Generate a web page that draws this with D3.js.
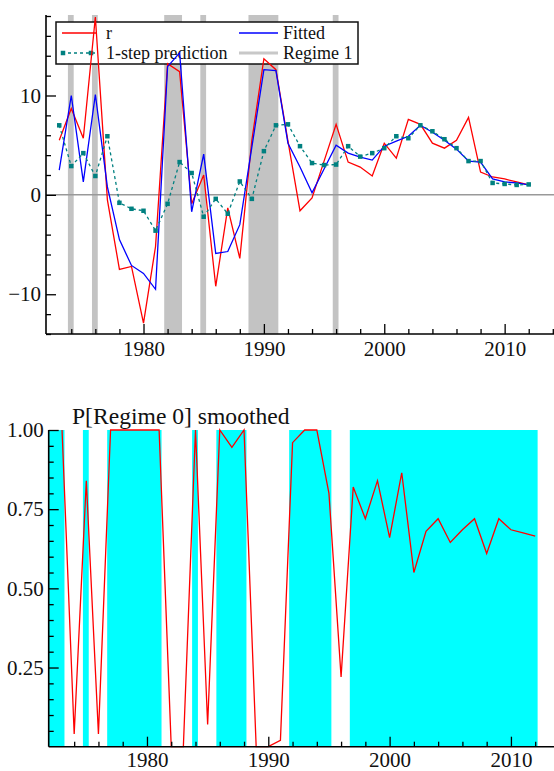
<!DOCTYPE html>
<html>
<head>
<meta charset="utf-8">
<title>r, fitted and 1-step prediction, P[Regime 0] smoothed</title>
<script src="https://cdn.jsdelivr.net/npm/d3@7"></script>
<style>
  body { margin: 0; background: #fff; }
  svg text { font-family: "Liberation Serif", "DejaVu Serif", "Times New Roman", serif; fill: #111; }
</style>
</head>
<body>
<div id="chart"></div>
<script>
// ---- data ----
var years = [1973, 1974, 1975, 1976, 1977, 1978, 1979, 1980, 1981, 1982,
             1983, 1984, 1985, 1986, 1987, 1988, 1989, 1990, 1991, 1992,
             1993, 1994, 1995, 1996, 1997, 1998, 1999, 2000, 2001, 2002,
             2003, 2004, 2005, 2006, 2007, 2008, 2009, 2010, 2011, 2012];

var r = [5.5, 8.7, 5.7, 17.9, -0.5, -7.5, -7.2, -12.9, -5.2, 13.2,
         12.4, -0.9, 2.0, -9.2, -1.3, -6.4, 5.5, 13.7, 12.6, 5.4,
         -1.6, -0.3, 3.4, 7.1, 3.3, 2.8, 1.9, 5.2, 3.7, 7.6,
         7.1, 5.2, 4.7, 5.5, 7.8, 2.3, 1.8, 1.6, 1.3, 1.0];

var fitted = [2.5, 10.0, 1.3, 10.1, 0.8, -4.5, -7.1, -7.9, -9.5, 12.9,
              14.3, -1.7, 4.1, -5.9, -5.7, -3.0, 4.8, 12.6, 12.5, 5.2,
              2.8, 0.2, 2.6, 5.0, 4.2, 3.8, 3.5, 4.9, 5.4, 5.9,
              7.0, 6.3, 5.5, 4.6, 3.4, 3.3, 1.6, 1.3, 1.2, 1.0];

var prediction = [7.0, 2.9, 4.2, 1.9, 5.9, -0.8, -1.4, -1.6, -3.6, -0.9,
                  3.3, 2.2, -2.2, -0.4, -1.9, 1.35, -0.4, 4.4, 7.0, 7.1,
                  4.9, 3.2, 3.0, 3.05, 4.9, 3.85, 4.2, 4.7, 5.9, 5.7,
                  7.0, 6.4, 5.6, 4.7, 3.4, 3.4, 1.2, 1.1, 1.0, 1.05];

// 1 = observation classified in regime 1
var regime = [0, 1, 0, 1, 0, 0, 0, 0, 0, 1,
              1, 0, 1, 0, 0, 0, 1, 1, 1, 0,
              0, 0, 0, 1, 0, 0, 0, 0, 0, 0,
              0, 0, 0, 0, 0, 0, 0, 0, 0, 0];

var pSmoothed = [1.0, 0.04, 0.84, 0.04, 1.0, 1.0, 1.0, 1.0, 1.0, 0.0,
                 0.0, 1.0, 0.07, 1.0, 0.945, 1.0, 0.0, 0.0, 0.02, 0.96,
                 1.0, 1.0, 0.80, 0.22, 0.82, 0.72, 0.84, 0.66, 0.865, 0.55,
                 0.68, 0.72, 0.645, 0.685, 0.72, 0.61, 0.72, 0.685, 0.675, 0.665];

var topMajorTicks = [-10, 0, 10];
var topMinorTicks = [-14, -12, -8, -6, -4, -2, 2, 4, 6, 8, 12, 14, 16, 18];
var botMajorTicks = [0.25, 0.5, 0.75, 1.0];
var botMinorTicks = [0.05, 0.1, 0.15, 0.2, 0.3, 0.35, 0.4, 0.45, 0.55, 0.6, 0.65, 0.7, 0.8, 0.85, 0.9, 0.95];
var yearMajorTicks = [1980, 1990, 2000, 2010];
var yearMinorTicks = [1974, 1976, 1978, 1982, 1984, 1986, 1988, 1992, 1994, 1996, 1998,
                      2002, 2004, 2006, 2008, 2012, 2014];

var W = 554, H = 771;
var FONT = "'Liberation Serif', 'DejaVu Serif', 'Times New Roman', serif";

var svg = d3.select("#chart").append("svg")
  .attr("width", W)
  .attr("height", H)
  .attr("font-family", FONT);

// group consecutive years with the same regime into runs
function runsOf(flag) {
  var out = [], cur = null;
  years.forEach(function (yr, i) {
    if (regime[i] === flag) {
      if (cur && yr === cur.end + 1) cur.end = yr;
      else { cur = { start: yr, end: yr, first: i === 0 }; out.push(cur); }
    } else cur = null;
  });
  return out;
}

function drawAxes(g, x, y, yMajor, yMinor, yFmt, bottom, left, xPad) {
  // x ticks
  g.append("g").attr("transform", "translate(0," + bottom + ")")
    .call(d3.axisBottom(x).tickValues(yearMinorTicks).tickSize(-5).tickSizeOuter(0).tickFormat(""))
    .call(function (a) { a.select(".domain").remove(); });
  g.append("g").attr("transform", "translate(0," + bottom + ")")
    .call(d3.axisBottom(x).tickValues(yearMajorTicks).tickSize(-10).tickSizeOuter(0)
      .tickPadding(xPad).tickFormat(d3.format("d")))
    .call(function (a) { a.select(".domain").remove(); });
  // y ticks
  g.append("g").attr("transform", "translate(" + left + ",0)")
    .call(d3.axisLeft(y).tickValues(yMinor).tickSize(-5).tickSizeOuter(0).tickFormat(""))
    .call(function (a) { a.select(".domain").remove(); });
  g.append("g").attr("transform", "translate(" + left + ",0)")
    .call(d3.axisLeft(y).tickValues(yMajor).tickSize(-10).tickSizeOuter(0)
      .tickPadding(5).tickFormat(yFmt))
    .call(function (a) { a.select(".domain").remove(); });

  g.selectAll("g").attr("font-family", FONT);
  g.selectAll(".tick line").attr("stroke", "#000").attr("stroke-width", 1.3);
  g.selectAll(".tick text").attr("font-size", 21).attr("fill", "#111")
    .style("font-family", FONT);

  // spines
  g.append("line").attr("x1", left).attr("x2", left)
    .attr("y1", y.range()[1]).attr("y2", bottom)
    .attr("stroke", "#000").attr("stroke-width", 1.6);
  g.append("line").attr("x1", left).attr("x2", W)
    .attr("y1", bottom).attr("y2", bottom)
    .attr("stroke", "#000").attr("stroke-width", 1.6);
}

// ================= top panel =================
var x1 = d3.scaleLinear().domain([1971.9, 2014.1]).range([46, 554]);
var y1 = d3.scaleLinear().domain([-14, 18.1]).range([334, 15]);
var gTop = svg.append("g");

// regime 1 shading
gTop.selectAll("rect.reg1")
  .data(runsOf(1))
  .enter().append("rect")
  .attr("class", "reg1")
  .attr("x", function (d) { return x1(d.start - 0.28); })
  .attr("width", function (d) { return x1(d.end + 0.2) - x1(d.start - 0.28); })
  .attr("y", y1(18.1))
  .attr("height", y1(-14) - y1(18.1))
  .attr("fill", "#c3c3c3");

// zero line
gTop.append("line")
  .attr("x1", x1(1971.9)).attr("x2", W)
  .attr("y1", y1(0)).attr("y2", y1(0))
  .attr("stroke", "#999").attr("stroke-width", 1.5);

// legend (lines are drawn over it)
var lg = gTop.append("g");
lg.append("rect").attr("x", 56).attr("y", 22).attr("width", 302).attr("height", 42)
  .attr("fill", "#fff").attr("stroke", "#111").attr("stroke-width", 1.5);
lg.append("line").attr("x1", 62).attr("x2", 97).attr("y1", 33).attr("y2", 33)
  .attr("stroke", "#ff0000").attr("stroke-width", 1.3);
lg.append("text").attr("x", 106).attr("y", 38.5).attr("font-size", 18).text("r");
lg.append("line").attr("x1", 62).attr("x2", 97).attr("y1", 53).attr("y2", 53)
  .attr("stroke", "#008080").attr("stroke-width", 1.3).attr("stroke-dasharray", "3,3");
lg.selectAll("rect.lgsq").data([63, 91]).enter().append("rect")
  .attr("class", "lgsq")
  .attr("x", function (d) { return d - 2.25; }).attr("y", 50.75)
  .attr("width", 4.5).attr("height", 4.5).attr("fill", "#008080");
lg.append("text").attr("x", 106).attr("y", 59).attr("font-size", 18).text("1-step prediction");
lg.append("line").attr("x1", 239).attr("x2", 278).attr("y1", 33).attr("y2", 33)
  .attr("stroke", "#0000ff").attr("stroke-width", 1.3);
lg.append("text").attr("x", 283).attr("y", 38.5).attr("font-size", 18).text("Fitted");
lg.append("line").attr("x1", 239).attr("x2", 278).attr("y1", 53).attr("y2", 53)
  .attr("stroke", "#c8c8c8").attr("stroke-width", 3);
lg.append("text").attr("x", 283).attr("y", 59).attr("font-size", 18).text("Regime 1");

var line1 = function (vals) {
  return d3.line()
    .x(function (d, i) { return x1(years[i]); })
    .y(function (d) { return y1(d); })(vals);
};

gTop.append("path").attr("d", line1(r))
  .attr("fill", "none").attr("stroke", "#ff0000").attr("stroke-width", 1.3);
gTop.append("path").attr("d", line1(fitted))
  .attr("fill", "none").attr("stroke", "#0000ff").attr("stroke-width", 1.3);
gTop.append("path").attr("d", line1(prediction))
  .attr("fill", "none").attr("stroke", "#008080").attr("stroke-width", 1.3)
  .attr("stroke-dasharray", "3,3");
gTop.selectAll("rect.pt")
  .data(prediction)
  .enter().append("rect")
  .attr("class", "pt")
  .attr("x", function (d, i) { return x1(years[i]) - 2.25; })
  .attr("y", function (d) { return y1(d) - 2.25; })
  .attr("width", 4.5).attr("height", 4.5)
  .attr("fill", "#008080");

drawAxes(gTop, x1, y1, topMajorTicks, topMinorTicks, d3.format("d"), 334, 46, 7);

// ================= bottom panel =================
var x2 = d3.scaleLinear().domain([1971.9, 2013.55]).range([48.7, 554]);
var y2 = d3.scaleLinear().domain([0, 1]).range([746.7, 430]);
var gBot = svg.append("g");

gBot.selectAll("rect.reg0")
  .data(runsOf(0))
  .enter().append("rect")
  .attr("class", "reg0")
  .attr("x", function (d) { return d.first ? x2(1971.9) : x2(d.start - 0.28); })
  .attr("width", function (d) {
    var a = d.first ? x2(1971.9) : x2(d.start - 0.28);
    return x2(d.end + 0.2) - a;
  })
  .attr("y", y2(1))
  .attr("height", y2(0) - y2(1))
  .attr("fill", "#00ffff");

gBot.append("path")
  .attr("d", d3.line()
    .x(function (d, i) { return x2(years[i]); })
    .y(function (d) { return y2(d); })(pSmoothed))
  .attr("fill", "none").attr("stroke", "#ff0000").attr("stroke-width", 1.3);

gBot.append("text").attr("x", 72).attr("y", 424).attr("font-size", 23.6)
  .text("P[Regime 0] smoothed");

drawAxes(gBot, x2, y2, botMajorTicks, botMinorTicks, d3.format(".2f"), 746.7, 48.7, 5);
</script>
</body>
</html>
